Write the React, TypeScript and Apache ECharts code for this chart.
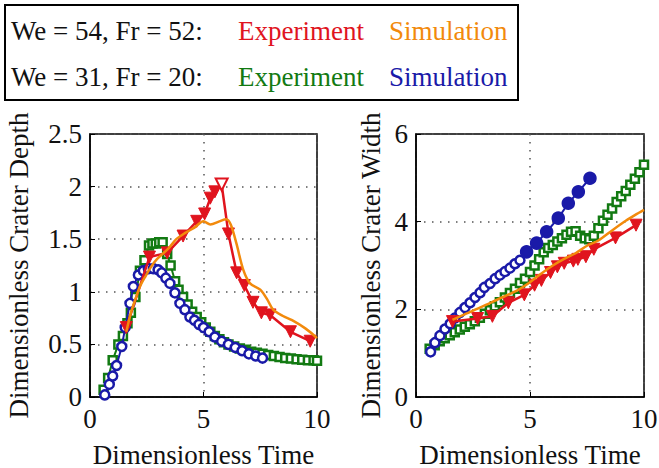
import React, { useEffect, useRef } from "react";
import * as echarts from "echarts";

// ---- Left panel: Dimensionless Crater Depth ----
const depthRedX = [1.6, 2.62, 3.4, 4.1, 4.7, 5.05, 5.3, 5.5, 5.8, 6.1, 6.46, 6.8, 7.18, 7.55, 7.93, 8.83, 9.7];
const depthRedY = [0.66, 1.33, 1.37, 1.53, 1.67, 1.74, 1.89, 1.95, 2.02, 1.55, 1.18, 1.06, 0.9, 0.8, 0.78, 0.62, 0.53];

const depthOrangeX = [1.6, 1.8, 2.0, 2.2, 2.45, 2.7, 2.95, 3.45, 3.8, 4.2, 4.6, 5.0, 5.3, 5.7, 6.0, 6.2, 6.45, 6.75, 7.05, 7.5, 7.8, 8.07, 8.5, 8.9, 9.5, 10.0];
const depthOrangeY = [0.62, 0.8, 0.93, 1.05, 1.15, 1.24, 1.31, 1.41, 1.5, 1.56, 1.61, 1.67, 1.64, 1.67, 1.69, 1.64, 1.46, 1.21, 1.08, 1.02, 0.93, 0.83, 0.77, 0.73, 0.65, 0.56];

const depthGreenX = [0.6, 0.8, 1.0, 1.25, 1.45, 1.65, 1.8, 2.0, 2.2, 2.4, 2.6, 2.75, 2.9, 3.05, 3.2, 3.4, 3.55, 3.75, 3.9, 4.1, 4.3, 4.5, 4.7, 4.9, 5.1, 5.3, 5.5, 5.7, 5.9, 6.1, 6.35, 6.6, 6.85, 7.1, 7.35, 7.6, 7.85, 8.1, 8.35, 8.6, 8.85, 9.1, 9.35, 9.6, 9.85, 10.0];
const depthGreenY = [0.07, 0.18, 0.35, 0.5, 0.58, 0.7, 0.8, 0.95, 1.2, 1.3, 1.44, 1.46, 1.46, 1.47, 1.47, 1.36, 1.25, 1.1, 1.02, 0.95, 0.88, 0.81, 0.76, 0.71, 0.66, 0.62, 0.58, 0.55, 0.52, 0.5, 0.48, 0.46, 0.45, 0.43, 0.42, 0.41, 0.4, 0.39, 0.38, 0.37, 0.365, 0.36, 0.355, 0.35, 0.35, 0.345];

const depthBlueX = [0.65, 0.85, 1.0, 1.17, 1.4, 1.55, 1.76, 1.91, 2.13, 2.35, 2.57, 2.79, 3.0, 3.16, 3.34, 3.52, 3.74, 3.96, 4.18, 4.4, 4.6, 4.8, 5.0, 5.25, 5.5, 5.8, 6.1, 6.4, 6.7, 7.0, 7.3, 7.6];
const depthBlueY = [0.02, 0.12, 0.2, 0.3, 0.48, 0.66, 0.89, 1.05, 1.16, 1.2, 1.22, 1.22, 1.21, 1.18, 1.13, 1.08, 0.99, 0.89, 0.83, 0.76, 0.73, 0.69, 0.66, 0.62, 0.57, 0.53, 0.5, 0.47, 0.44, 0.41, 0.39, 0.37];

// ---- Right panel: Dimensionless Crater Width ----
const widthRedX = [1.6, 2.7, 3.35, 4.05, 4.75, 5.2, 5.5, 5.9, 6.2, 6.5, 6.9, 7.1, 7.45, 7.8, 8.75, 9.65];
const widthRedY = [1.72, 1.79, 1.84, 2.15, 2.33, 2.55, 2.66, 2.84, 2.97, 3.05, 3.1, 3.14, 3.2, 3.37, 3.63, 3.92];

const widthOrangeX = [1.6, 2.2, 2.9, 3.6, 4.4, 5.0, 5.5, 6.0, 6.5, 7.0, 7.5, 8.0, 8.6, 9.2, 9.6, 10.0];
const widthOrangeY = [1.76, 1.9, 2.06, 2.23, 2.42, 2.62, 2.82, 3.0, 3.15, 3.28, 3.45, 3.57, 3.8, 4.02, 4.15, 4.27];

const widthGreenX = [0.6, 0.82, 1.04, 1.26, 1.48, 1.7, 1.92, 2.14, 2.36, 2.58, 2.8, 3.02, 3.24, 3.46, 3.68, 3.9, 4.12, 4.34, 4.56, 4.78, 5.0, 5.2, 5.4, 5.6, 5.8, 6.0, 6.2, 6.4, 6.6, 6.8, 7.0, 7.2, 7.4, 7.6, 7.8, 8.0, 8.2, 8.4, 8.6, 8.8, 9.0, 9.2, 9.4, 9.6, 9.8, 10.0];
const widthGreenY = [1.1, 1.18, 1.27, 1.34, 1.41, 1.48, 1.54, 1.6, 1.66, 1.73, 1.81, 1.9, 1.98, 2.07, 2.16, 2.27, 2.37, 2.47, 2.6, 2.7, 2.85, 3.0, 3.14, 3.3, 3.4, 3.47, 3.55, 3.62, 3.7, 3.77, 3.78, 3.68, 3.62, 3.6, 3.68, 3.85, 4.02, 4.16, 4.3, 4.45, 4.58, 4.7, 4.84, 4.98, 5.13, 5.3];

const widthBlueX = [0.64, 0.83, 1.05, 1.27, 1.5, 1.71, 1.93, 2.15, 2.37, 2.59, 2.81, 3.0, 3.25, 3.47, 3.68, 3.9, 4.12, 4.34, 4.56, 4.85, 5.29, 5.73, 6.24, 6.68, 7.12, 7.63];
const widthBlueY = [1.03, 1.24, 1.4, 1.55, 1.67, 1.8, 1.93, 2.04, 2.15, 2.27, 2.38, 2.5, 2.59, 2.7, 2.78, 2.86, 2.94, 3.04, 3.12, 3.31, 3.51, 3.77, 4.08, 4.42, 4.68, 4.99];

// ---- Ticks / labels ----
const timeTicks = [0, 5, 10];
const depthTicks = [0, 0.5, 1, 1.5, 2, 2.5];
const widthTicks = [0, 2, 4, 6];

const RED = "#e0141e";
const ORANGE = "#f28a0c";
const GREEN = "#127a12";
const BLUE = "#1a1aa8";
const FONT = "'Liberation Serif', 'Times New Roman', Times, serif";
const FS = 27;

const zip = (xs: number[], ys: number[]) => xs.map((x, i) => [x, ys[i]]);

export default function App() {
  const ref = useRef<HTMLDivElement>(null);
  useEffect(() => {
    if (!ref.current) return;
    const chart = echarts.init(ref.current, null, { renderer: "svg" });

    const splitLine = { show: true, lineStyle: { type: [1.5, 6.5], color: "#555", width: 1.5 } };
    const axisCommon = {
      axisLine: { show: true, onZero: false, lineStyle: { color: "#000", width: 1.5 } },
      axisTick: { show: true, inside: true, length: 5, lineStyle: { color: "#000", width: 1 } },
      axisLabel: { fontFamily: FONT, fontSize: FS, color: "#111", margin: 8 },
      nameTextStyle: { fontFamily: FONT, fontSize: FS, color: "#111" },
      splitLine,
    };
    const xAxisFor = (gi: number) => ({
      ...axisCommon,
      type: "value",
      gridIndex: gi,
      min: timeTicks[0],
      max: timeTicks[timeTicks.length - 1],
      interval: timeTicks[1] - timeTicks[0],
      name: "Dimensionless Time",
      nameLocation: "middle",
      nameGap: 44,
    });

    const redItems = (xs: number[], ys: number[], openIdx: number) =>
      zip(xs, ys).map((v, i) =>
        i === openIdx
          ? { value: v, itemStyle: { color: "#fff", borderColor: RED, borderWidth: 2 } }
          : { value: v }
      );

    const blueRight = zip(widthBlueX, widthBlueY).map((v, i) =>
      i >= 19
        ? { value: v, symbol: "circle", symbolSize: 11, itemStyle: { color: BLUE, borderColor: BLUE } }
        : { value: v }
    );

    const greenSeries = (gi: number, data: number[][]) => ({
      type: "line",
      xAxisIndex: gi,
      yAxisIndex: gi,
      data,
      symbol: "rect",
      symbolSize: 8,
      itemStyle: { color: "#fff", borderColor: GREEN, borderWidth: 2.5 },
      lineStyle: { color: GREEN, width: 2 },
      z: 2,
    });
    const blueSeries = (gi: number, data: any[]) => ({
      type: "line",
      xAxisIndex: gi,
      yAxisIndex: gi,
      data,
      symbol: "circle",
      symbolSize: 9,
      itemStyle: { color: "#fff", borderColor: BLUE, borderWidth: 2.5 },
      lineStyle: { color: BLUE, width: 2 },
      z: 3,
    });
    const redSeries = (gi: number, data: any[]) => ({
      type: "line",
      xAxisIndex: gi,
      yAxisIndex: gi,
      data,
      symbol: "triangle",
      symbolRotate: 180,
      symbolSize: 12,
      itemStyle: { color: RED, borderColor: RED, borderWidth: 1 },
      lineStyle: { color: RED, width: 2.5 },
      z: 4,
    });
    const orangeSeries = (gi: number, data: number[][]) => ({
      type: "line",
      xAxisIndex: gi,
      yAxisIndex: gi,
      data,
      symbol: "none",
      smooth: 0.3,
      lineStyle: { color: ORANGE, width: 2.5 },
      z: 5,
    });

    const legendText = (text: string, x: number, y: number, color: string) => ({
      type: "text",
      x,
      y,
      style: { text, fill: color, fontFamily: FONT, fontSize: FS, verticalAlign: "middle", align: "left" },
      z: 101,
    });

    const gridBase = {
      top: 134,
      bottom: 71,
      show: true,
      borderColor: "#000",
      borderWidth: 1.5,
      backgroundColor: "#fff",
      containLabel: false,
      outerBoundsMode: "none",
    };

    chart.setOption({
      animation: false,
      backgroundColor: "#fff",
      textStyle: { fontFamily: FONT },
      grid: [
        { ...gridBase, left: 90, right: 342 },
        { ...gridBase, left: 416, right: 15 },
      ],
      xAxis: [xAxisFor(0), xAxisFor(1)],
      yAxis: [
        {
          ...axisCommon,
          type: "value",
          gridIndex: 0,
          min: depthTicks[0],
          max: depthTicks[depthTicks.length - 1],
          interval: depthTicks[1] - depthTicks[0],
          name: "Dimensionless Crater Depth",
          nameLocation: "middle",
          nameRotate: 90,
          nameGap: 58,
        },
        {
          ...axisCommon,
          type: "value",
          gridIndex: 1,
          min: widthTicks[0],
          max: widthTicks[widthTicks.length - 1],
          interval: widthTicks[1] - widthTicks[0],
          name: "Dimensionless Crater Width",
          nameLocation: "middle",
          nameRotate: 90,
          nameGap: 32,
        },
      ],
      series: [
        greenSeries(0, zip(depthGreenX, depthGreenY)),
        blueSeries(0, zip(depthBlueX, depthBlueY)),
        redSeries(0, redItems(depthRedX, depthRedY, 8)),
        orangeSeries(0, zip(depthOrangeX, depthOrangeY)),
        greenSeries(1, zip(widthGreenX, widthGreenY)),
        blueSeries(1, blueRight),
        redSeries(1, redItems(widthRedX, widthRedY, -1)),
        orangeSeries(1, zip(widthOrangeX, widthOrangeY)),
      ],
      graphic: [
        {
          type: "rect",
          shape: { x: 5, y: 5, width: 513, height: 95 },
          style: { fill: "#fff", stroke: "#000", lineWidth: 2 },
          z: 100,
        },
        legendText("We = 54, Fr = 52:", 11, 31, "#111"),
        legendText("Experiment", 238, 31, RED),
        legendText("Simulation", 389, 31, ORANGE),
        legendText("We = 31, Fr = 20:", 11, 77, "#111"),
        legendText("Experiment", 238, 77, GREEN),
        legendText("Simulation", 389, 77, BLUE),
      ],
    });
    return () => chart.dispose();
  }, []);
  return <div ref={ref} style={{ position: "fixed", left: 0, top: 0, width: 659, height: 468 }} />;
}
